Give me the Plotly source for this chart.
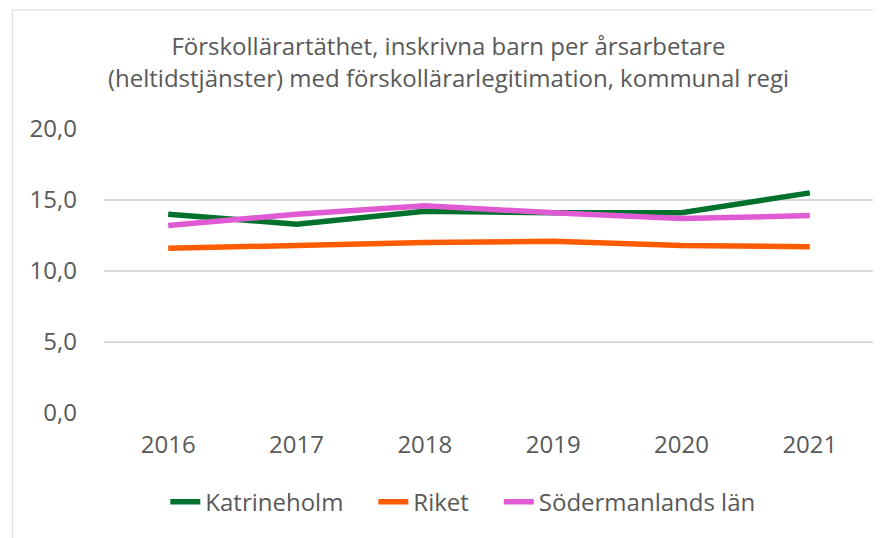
import plotly.graph_objects as go

years = ["2016", "2017", "2018", "2019", "2020", "2021"]
katrineholm = [14.0, 13.3, 14.2, 14.1, 14.1, 15.5]
riket = [11.6, 11.8, 12.0, 12.1, 11.8, 11.7]
sodermanland = [13.2, 14.0, 14.6, 14.1, 13.7, 13.9]

series = [
    ("Katrineholm", katrineholm, "#00712D"),
    ("Riket", riket, "#FF5B00"),
    ("Södermanlands län", sodermanland, "#E05AD3"),
]

pad = "\u00a0" * 4

fig = go.Figure()
for i, (name, vals, color) in enumerate(series):
    label = name if i == len(series) - 1 else name + pad
    fig.add_trace(
        go.Scatter(
            x=years,
            y=vals,
            mode="lines",
            name=label,
            line=dict(color=color, width=5.5),
        )
    )

fig.update_layout(
    width=881,
    height=538,
    paper_bgcolor="white",
    plot_bgcolor="white",
    font=dict(family="Open Sans", size=24, color="#595959"),
    separators=", ",
    title=dict(
        text="Förskollärartäthet, inskrivna barn per årsarbetare<br>(heltidstjänster) med förskollärarlegitimation, kommunal regi",
        x=0.5,
        xanchor="center",
        y=0.912,
        yanchor="top",
        font=dict(size=24, color="#595959"),
    ),
    margin=dict(l=96, r=15, t=121, b=133),
    legend=dict(
        orientation="h",
        x=0.466,
        xanchor="center",
        y=-0.235,
        yanchor="top",
        font=dict(size=24),
        traceorder="normal",
    ),
    xaxis=dict(
        type="category",
        range=[-0.5, 5.5],
        showgrid=False,
        showline=False,
        ticks="",
        ticklabelstandoff=15,
        tickfont=dict(size=24),
    ),
    yaxis=dict(
        range=[0, 20],
        dtick=5,
        tickformat=".1f",
        showgrid=True,
        gridcolor="#d9d9d9",
        gridwidth=1.5,
        zeroline=False,
        ticks="",
        ticklabelstandoff=26,
        tickfont=dict(size=24),
    ),
    shapes=[
        dict(
            type="rect",
            xref="paper",
            yref="paper",
            x0=-0.119,
            x1=1.03,
            y0=-0.5,
            y1=1.419,
            line=dict(color="#d9d9d9", width=1),
        )
    ],
)

fig.write_html("out.html")
